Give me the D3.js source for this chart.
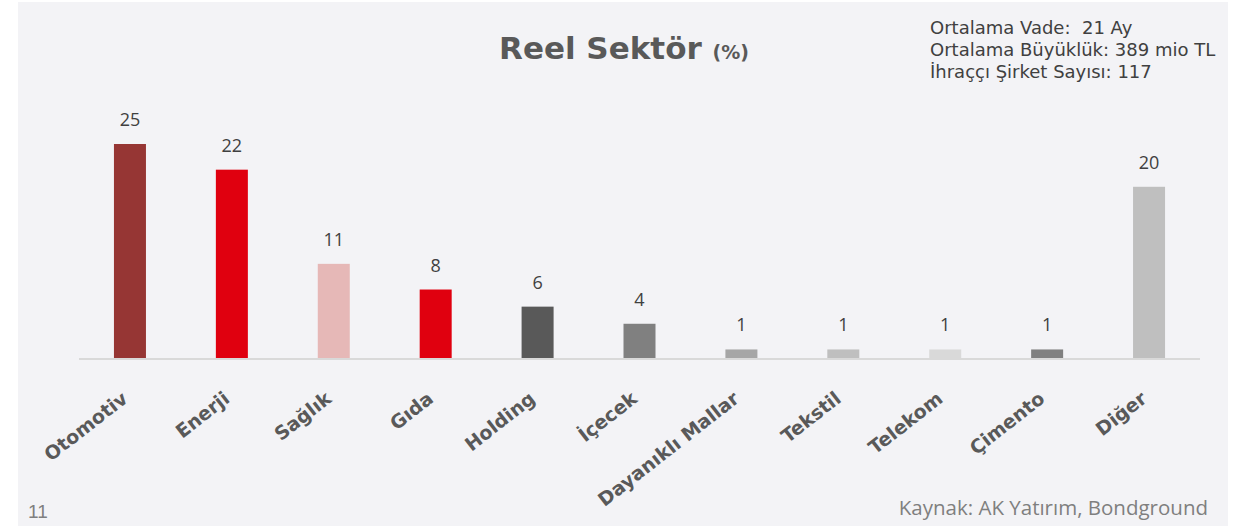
<!DOCTYPE html>
<html>
<head>
<meta charset="utf-8">
<script src="https://cdn.jsdelivr.net/npm/d3@7"></script>
<style>
  body { margin: 0; background: #fff; }
  .cat { font-family: "DejaVu Sans", sans-serif; font-weight: bold; font-size: 19px; fill: #595959; }
  .val { font-family: "Open Sans", sans-serif; font-size: 18px; fill: #404040; }
  .info { font-family: "DejaVu Sans", sans-serif; font-size: 18px; fill: #404040; white-space: pre; }
</style>
</head>
<body>
<div id="chart"></div>
<script>
var categories = ["Otomotiv", "Enerji", "Sağlık", "Gıda", "Holding", "İçecek",
                  "Dayanıklı Mallar", "Tekstil", "Telekom", "Çimento", "Diğer"];
var values = [25, 22, 11, 8, 6, 4, 1, 1, 1, 1, 20];
var colors = ["#963634", "#e0000f", "#e6b8b7", "#e0000f", "#595959", "#808080",
              "#a6a6a6", "#bfbfbf", "#d9d9d9", "#808080", "#bfbfbf"];
var infoLines = ["Ortalama Vade:  21 Ay", "Ortalama Büyüklük: 389 mio TL", "İhraççı Şirket Sayısı: 117"];

var width = 1241, height = 526;

var svg = d3.select("#chart")
  .append("svg")
  .attr("width", width)
  .attr("height", height);

// panel background
svg.append("rect")
  .attr("x", 18).attr("y", 2)
  .attr("width", 1210).attr("height", 524)
  .style("fill", "#f3f3f6");

var x = d3.scaleBand()
  .domain(categories)
  .range([79, 1200])
  .paddingInner(0.686)
  .paddingOuter(0.343);

var y = d3.scaleLinear()
  .domain([0, 25])
  .range([358, 144]);

// bars
svg.selectAll(".bar")
  .data(values)
  .enter()
  .append("rect")
  .attr("class", "bar")
  .attr("x", function(d, i) { return x(categories[i]); })
  .attr("width", x.bandwidth())
  .attr("y", function(d) { return y(d); })
  .attr("height", function(d) { return y(0) - y(d); })
  .style("fill", function(d, i) { return colors[i]; });

// baseline axis
svg.append("line")
  .attr("x1", 79).attr("x2", 1200)
  .attr("y1", y(0) + 1).attr("y2", y(0) + 1)
  .style("stroke", "#d9d9d9")
  .style("stroke-width", 2);

// value labels
svg.selectAll(".val")
  .data(values)
  .enter()
  .append("text")
  .attr("class", "val")
  .attr("x", function(d, i) { return x(categories[i]) + x.bandwidth() / 2; })
  .attr("y", function(d) { return y(d) - 18; })
  .attr("text-anchor", "middle")
  .text(function(d) { return d; });

// category labels, rotated
svg.selectAll(".cat")
  .data(categories)
  .enter()
  .append("text")
  .attr("class", "cat")
  .attr("text-anchor", "end")
  .attr("transform", function(d) {
    return "translate(" + (x(d) + x.bandwidth() / 2 - 1) + ",401)rotate(-38)";
  })
  .text(function(d) { return d; });

// title
var title = svg.append("text")
  .attr("x", 624)
  .attr("y", 59)
  .attr("text-anchor", "middle")
  .style("font-family", "'DejaVu Sans', sans-serif")
  .style("font-weight", "bold")
  .style("fill", "#595959");
title.append("tspan").style("font-size", "31px").text("Reel Sektör ");
title.append("tspan").style("font-size", "19px").text("(%)");

// info block
svg.selectAll(".info")
  .data(infoLines)
  .enter()
  .append("text")
  .attr("class", "info")
  .attr("x", 930)
  .attr("y", function(d, i) { return 34 + i * 22; })
  .text(function(d) { return d; });

// page number
svg.append("text")
  .attr("x", 28).attr("y", 518)
  .style("font-family", "'Liberation Sans', sans-serif")
  .style("font-size", "19px")
  .style("fill", "#7f7f7f")
  .text("11");

// source
svg.append("text")
  .attr("x", 1208).attr("y", 515)
  .attr("text-anchor", "end")
  .style("font-family", "'Open Sans', sans-serif")
  .style("font-size", "20.5px")
  .style("fill", "#7f7f7f")
  .text("Kaynak: AK Yatırım, Bondground");
</script>
</body>
</html>
